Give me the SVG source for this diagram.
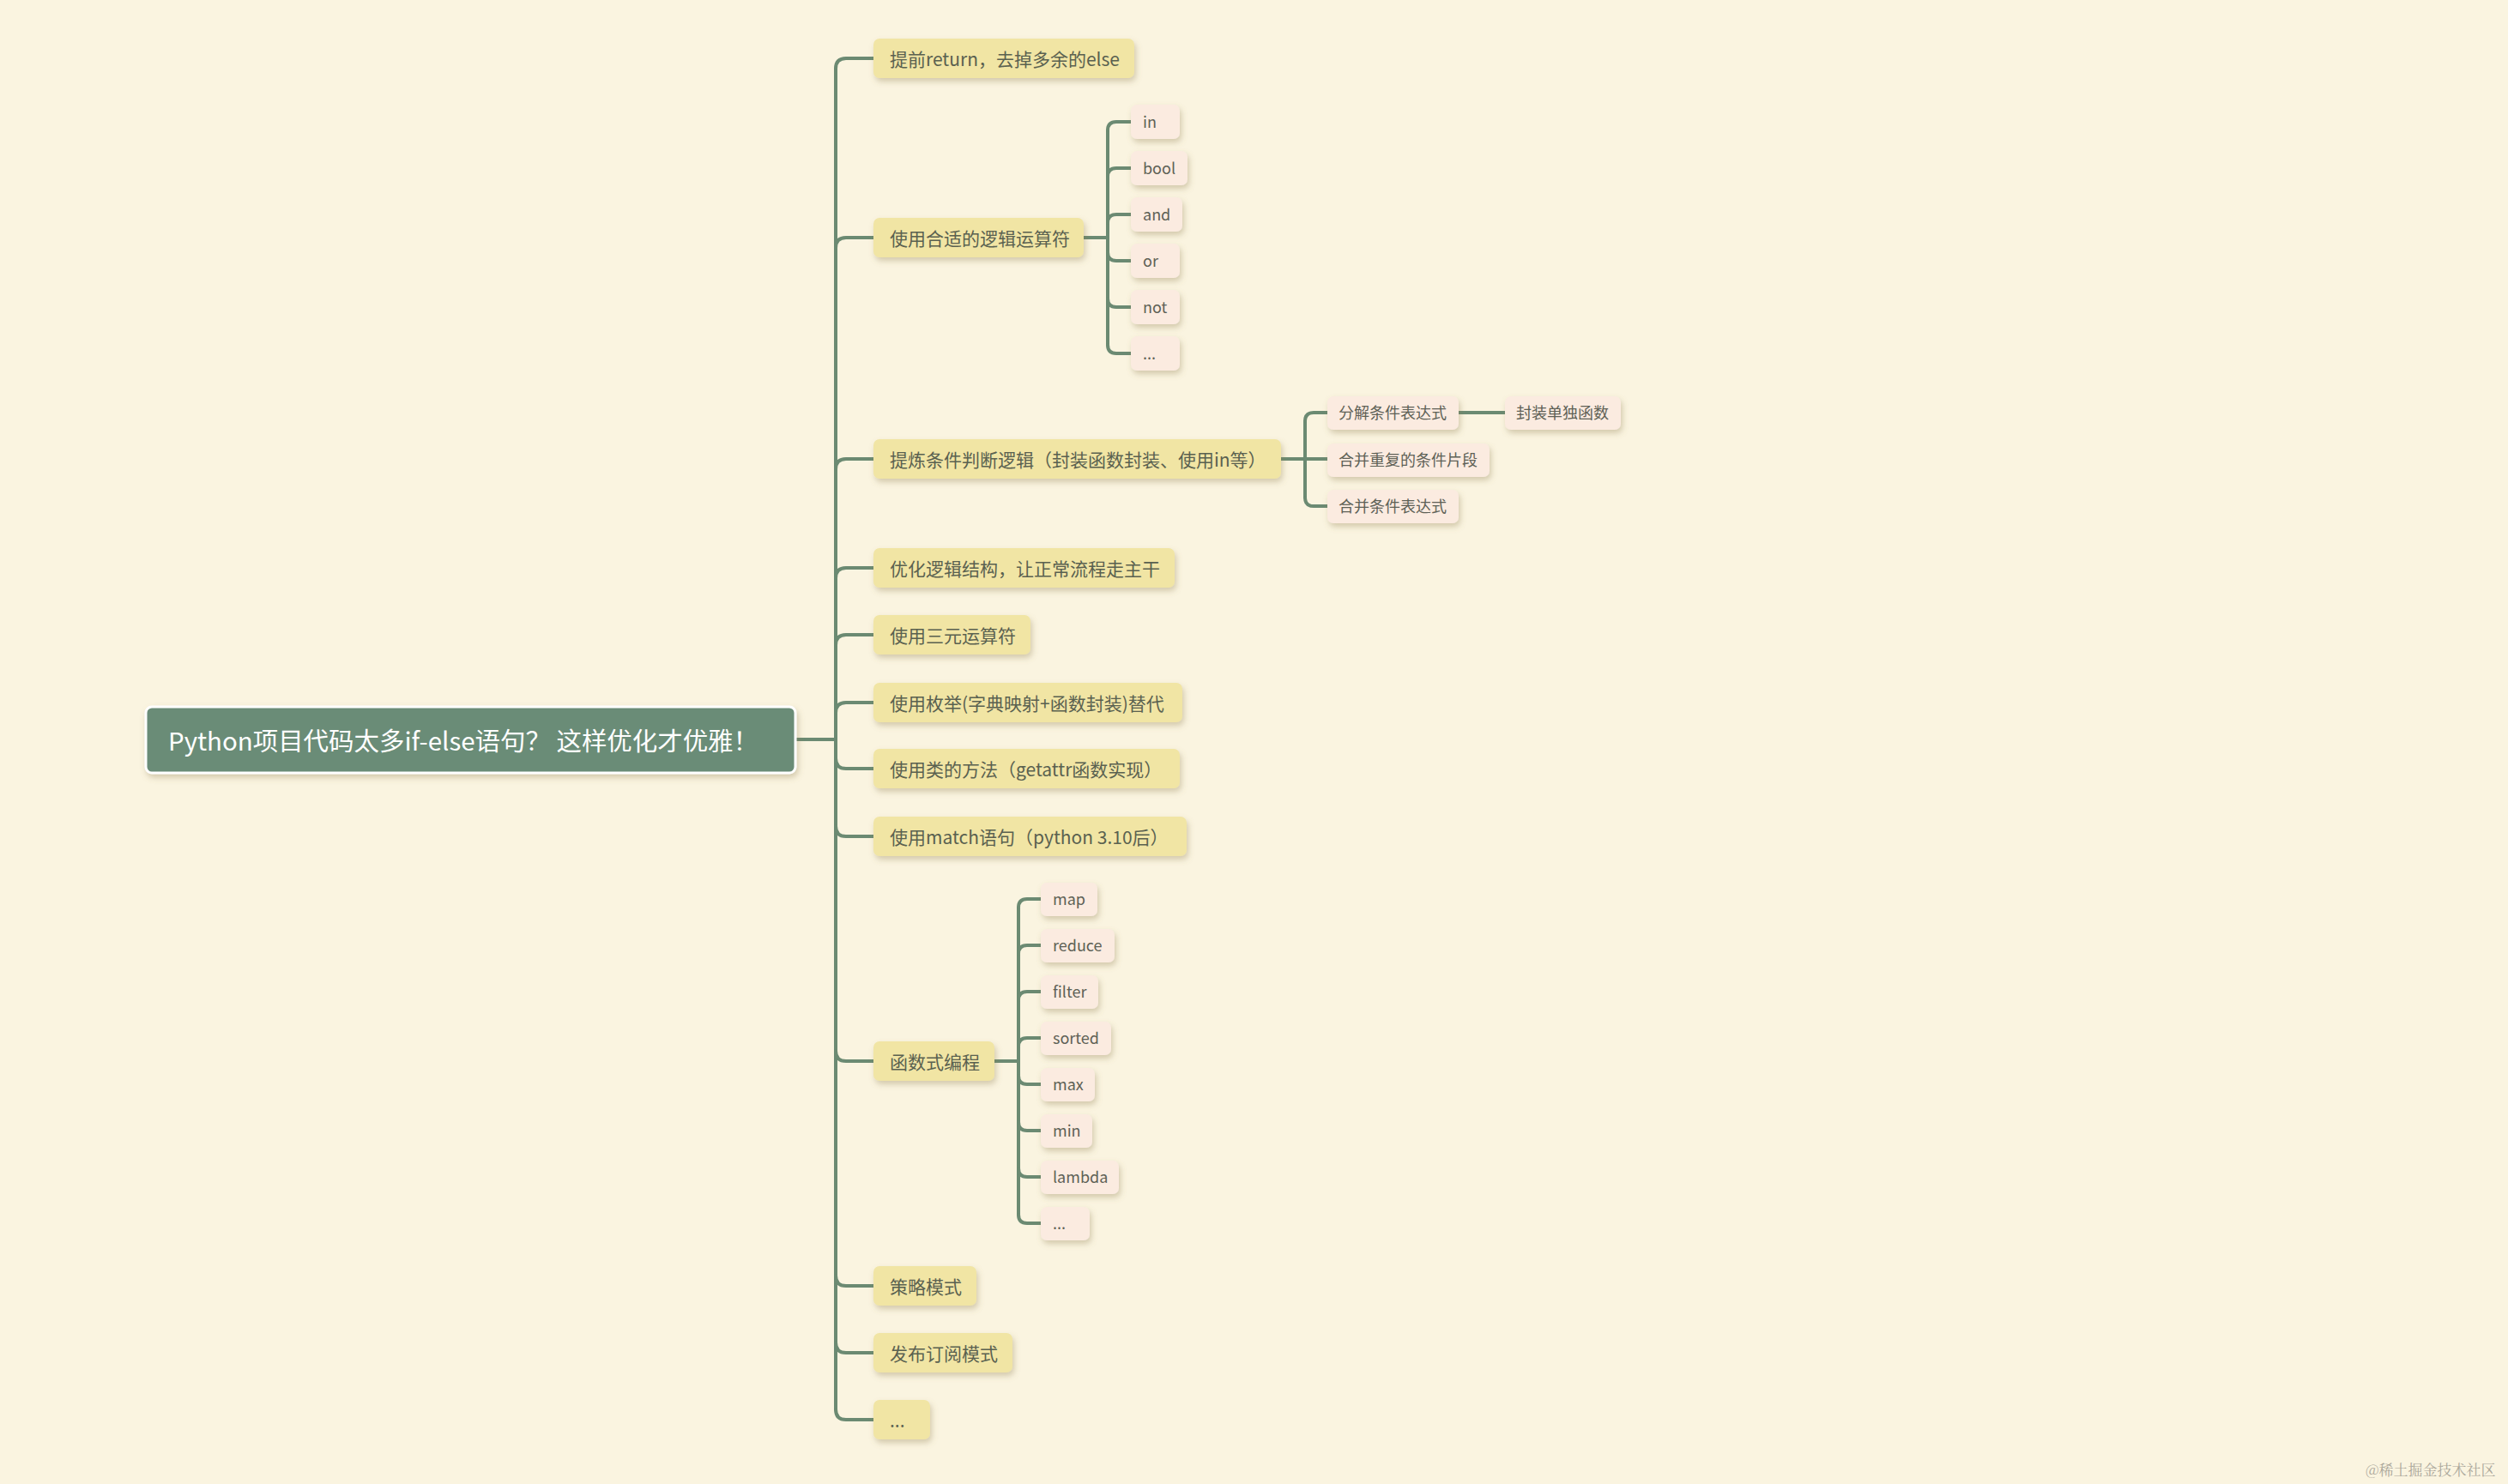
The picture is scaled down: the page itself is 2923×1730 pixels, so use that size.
<svg xmlns="http://www.w3.org/2000/svg" width="2923" height="1730" viewBox="0 0 2923 1730">
<style>
.bg{fill:#FAF4E0}
.l1 rect{fill:#F1E5A4}
.lf rect{fill:#FBEBE0}
.l1 text{font-family:"Noto Sans CJK SC","Noto Sans",sans-serif;font-size:21px;fill:#5A6150;dominant-baseline:central}
.lf text{font-family:"Noto Sans CJK SC","Noto Sans",sans-serif;font-size:18px;fill:#5E6156;dominant-baseline:central}
.root text{font-family:"Noto Sans CJK SC","Noto Sans",sans-serif;font-size:29px;fill:#FFFFFF;dominant-baseline:central}
.conn path{fill:none;stroke:#6B8A72;stroke-width:4;stroke-linecap:round}
.wm{font-family:"Noto Serif CJK SC","Noto Sans CJK SC",serif;font-size:17px;fill:#ABA79A}
</style>
<defs>
<filter id="sh" x="-10%" y="-20%" width="130%" height="170%">
<feDropShadow dx="2" dy="4" stdDeviation="3.5" flood-color="#8A7A4A" flood-opacity="0.35"/>
</filter>
</defs>
<rect class="bg" x="0" y="0" width="2923" height="1730"/>

<g class="conn" id="connectors">
<path d="M927,862 H974"/>
<path d="M974,80 V1643"/>
<path d="M974,80 Q974,68 986,68 H1018"/>
<path d="M974,289 Q974,277 986,277 H1018"/>
<path d="M974,547 Q974,535 986,535 H1018"/>
<path d="M974,674 Q974,662 986,662 H1018"/>
<path d="M974,752 Q974,740 986,740 H1018"/>
<path d="M974,831 Q974,819 986,819 H1018"/>
<path d="M974,884 Q974,896 986,896 H1018"/>
<path d="M974,963 Q974,975 986,975 H1018"/>
<path d="M974,1225 Q974,1237 986,1237 H1018"/>
<path d="M974,1487 Q974,1499 986,1499 H1018"/>
<path d="M974,1565 Q974,1577 986,1577 H1018"/>
<path d="M974,1643 Q974,1655 986,1655 H1018"/>

<path d="M1263,277 H1291"/>
<path d="M1291,152 V402"/>
<path d="M1291,152 Q1291,142 1301,142 H1318"/>
<path d="M1291,206 Q1291,196 1301,196 H1318"/>
<path d="M1291,260 Q1291,250 1301,250 H1318"/>
<path d="M1291,294 Q1291,304 1301,304 H1318"/>
<path d="M1291,348 Q1291,358 1301,358 H1318"/>
<path d="M1291,402 Q1291,412 1301,412 H1318"/>

<path d="M1493,535 H1547"/>
<path d="M1521,491 V580"/>
<path d="M1521,491 Q1521,481 1531,481 H1547"/>
<path d="M1521,580 Q1521,590 1531,590 H1547"/>
<path d="M1700,481 H1754"/>

<path d="M1159,1237 H1187"/>
<path d="M1187,1058 V1416"/>
<path d="M1187,1058 Q1187,1048 1197,1048 H1213"/>
<path d="M1187,1112 Q1187,1102 1197,1102 H1213"/>
<path d="M1187,1166 Q1187,1156 1197,1156 H1213"/>
<path d="M1187,1220 Q1187,1210 1197,1210 H1213"/>
<path d="M1187,1254 Q1187,1264 1197,1264 H1213"/>
<path d="M1187,1308 Q1187,1318 1197,1318 H1213"/>
<path d="M1187,1362 Q1187,1372 1197,1372 H1213"/>
<path d="M1187,1416 Q1187,1426 1197,1426 H1213"/>
</g>

<g class="root" id="root">
<rect x="170" y="824" width="757" height="77" rx="7" fill="#6B8C77" stroke="#FFFFFF" stroke-width="3" filter="url(#sh)"/>
<text x="196" y="862" textLength="688" lengthAdjust="spacingAndGlyphs">Python项目代码太多if-else语句？ 这样优化才优雅！</text>
</g>

<g class="l1" id="n1"><rect x="1018" y="45" width="304" height="46" rx="7" filter="url(#sh)"/><text x="1037" y="68">提前return，去掉多余的else</text></g>
<g class="l1" id="n2"><rect x="1018" y="254" width="245" height="46" rx="7" filter="url(#sh)"/><text x="1037" y="277">使用合适的逻辑运算符</text></g>
<g class="l1" id="n3"><rect x="1018" y="512" width="475" height="46" rx="7" filter="url(#sh)"/><text x="1037" y="535">提炼条件判断逻辑（封装函数封装、使用in等）</text></g>
<g class="l1" id="n4"><rect x="1018" y="639" width="351" height="46" rx="7" filter="url(#sh)"/><text x="1037" y="662">优化逻辑结构，让正常流程走主干</text></g>
<g class="l1" id="n5"><rect x="1018" y="717" width="183" height="46" rx="7" filter="url(#sh)"/><text x="1037" y="740">使用三元运算符</text></g>
<g class="l1" id="n6"><rect x="1018" y="796" width="360" height="46" rx="7" filter="url(#sh)"/><text x="1037" y="819">使用枚举(字典映射+函数封装)替代</text></g>
<g class="l1" id="n7"><rect x="1018" y="873" width="357" height="46" rx="7" filter="url(#sh)"/><text x="1037" y="896">使用类的方法（getattr函数实现）</text></g>
<g class="l1" id="n8"><rect x="1018" y="952" width="365" height="46" rx="7" filter="url(#sh)"/><text x="1037" y="975">使用match语句（python 3.10后）</text></g>
<g class="l1" id="n9"><rect x="1018" y="1214" width="141" height="46" rx="7" filter="url(#sh)"/><text x="1037" y="1237">函数式编程</text></g>
<g class="l1" id="n10"><rect x="1018" y="1476" width="120" height="46" rx="7" filter="url(#sh)"/><text x="1037" y="1499">策略模式</text></g>
<g class="l1" id="n11"><rect x="1018" y="1554" width="162" height="46" rx="7" filter="url(#sh)"/><text x="1037" y="1577">发布订阅模式</text></g>
<g class="l1" id="n12"><rect x="1018" y="1632" width="66" height="46" rx="7" filter="url(#sh)"/><text x="1037" y="1655">...</text></g>

<g class="lf" id="n2a"><rect x="1318" y="122" width="57" height="40" rx="7" filter="url(#sh)"/><text x="1332" y="141">in</text></g>
<g class="lf" id="n2b"><rect x="1318" y="176" width="66" height="40" rx="7" filter="url(#sh)"/><text x="1332" y="195">bool</text></g>
<g class="lf" id="n2c"><rect x="1318" y="230" width="60" height="40" rx="7" filter="url(#sh)"/><text x="1332" y="249">and</text></g>
<g class="lf" id="n2d"><rect x="1318" y="284" width="57" height="40" rx="7" filter="url(#sh)"/><text x="1332" y="303">or</text></g>
<g class="lf" id="n2e"><rect x="1318" y="338" width="57" height="40" rx="7" filter="url(#sh)"/><text x="1332" y="357">not</text></g>
<g class="lf" id="n2f"><rect x="1318" y="392" width="57" height="40" rx="7" filter="url(#sh)"/><text x="1332" y="411">...</text></g>

<g class="lf" id="n3a"><rect x="1547" y="462" width="153" height="39" rx="7" filter="url(#sh)"/><text x="1560" y="480">分解条件表达式</text></g>
<g class="lf" id="n3a1"><rect x="1754" y="462" width="135" height="39" rx="7" filter="url(#sh)"/><text x="1767" y="480">封装单独函数</text></g>
<g class="lf" id="n3b"><rect x="1547" y="517" width="189" height="39" rx="7" filter="url(#sh)"/><text x="1560" y="535">合并重复的条件片段</text></g>
<g class="lf" id="n3c"><rect x="1547" y="571" width="153" height="39" rx="7" filter="url(#sh)"/><text x="1560" y="589">合并条件表达式</text></g>

<g class="lf" id="n9a"><rect x="1213" y="1029" width="66" height="39" rx="7" filter="url(#sh)"/><text x="1227" y="1047">map</text></g>
<g class="lf" id="n9b"><rect x="1213" y="1083" width="86" height="39" rx="7" filter="url(#sh)"/><text x="1227" y="1101">reduce</text></g>
<g class="lf" id="n9c"><rect x="1213" y="1137" width="67" height="39" rx="7" filter="url(#sh)"/><text x="1227" y="1155">filter</text></g>
<g class="lf" id="n9d"><rect x="1213" y="1191" width="82" height="39" rx="7" filter="url(#sh)"/><text x="1227" y="1209">sorted</text></g>
<g class="lf" id="n9e"><rect x="1213" y="1245" width="63" height="39" rx="7" filter="url(#sh)"/><text x="1227" y="1263">max</text></g>
<g class="lf" id="n9f"><rect x="1213" y="1299" width="60" height="39" rx="7" filter="url(#sh)"/><text x="1227" y="1317">min</text></g>
<g class="lf" id="n9g"><rect x="1213" y="1353" width="91" height="39" rx="7" filter="url(#sh)"/><text x="1227" y="1371">lambda</text></g>
<g class="lf" id="n9h"><rect x="1213" y="1407" width="57" height="39" rx="7" filter="url(#sh)"/><text x="1227" y="1425">...</text></g>

<text class="wm" x="2757" y="1720">@稀土掘金技术社区</text>
</svg>
